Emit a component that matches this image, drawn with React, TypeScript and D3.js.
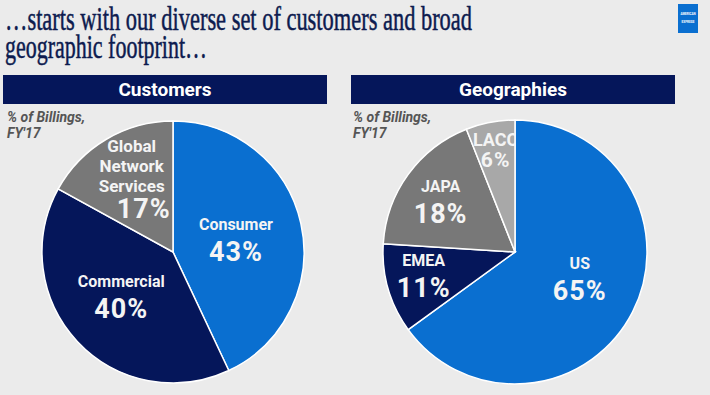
import { arc, pie } from "d3";
import type { PieArcDatum } from "d3";
import type { ReactElement } from "react";

const customerNames: string[][] = [["Consumer"], ["Commercial"], ["Global", "Network", "Services"]];
const customerValues = [43, 40, 17];
const customerColors = ["#0a6fd0", "#05165a", "#787878"];

const geoNames: string[][] = [["US"], ["EMEA"], ["JAPA"], ["LACC"]];
const geoValues = [65, 11, 18, 6];
const geoColors = ["#0a6fd0", "#05165a", "#787878", "#a8a8a8"];

const NAVY = "#05165a";
const BG = "#ebebeb";
const FONT = "Roboto, 'Liberation Sans', sans-serif";

// label nudges relative to arc centroid at half radius
const customerNudge: [number, number][] = [[-1, 1], [-4, -1], [-2, 0]];
const geoNudge: [number, number][] = [[6, -4], [-28, 5], [-21, -12], [-7, -42]];

type PieProps = Readonly<{
  id: string;
  cx: number;
  cy: number;
  r: number;
  names: string[][];
  values: number[];
  colors: string[];
  nudges: [number, number][];
  small?: number;
}>;

const PieChart = (props: PieProps): ReactElement => {
  const { id, cx, cy, r, names, values, colors, nudges, small } = props;
  const arcs = pie<number>().sort(null).value((d) => d)(values);
  const path = arc<PieArcDatum<number>>().innerRadius(0).outerRadius(r);
  const mid = arc<PieArcDatum<number>>().innerRadius(r * 0.5).outerRadius(r * 0.5);

  return (
    <g transform={`translate(${cx},${cy})`}>
      <defs>
        {arcs.map((a, i) => (
          <clipPath key={i} id={`${id}-clip-${i}`}>
            <path d={path(a) ?? ""} />
          </clipPath>
        ))}
      </defs>
      {arcs.map((a, i) => (
        <path key={i} d={path(a) ?? ""} fill={colors[i]} stroke="#ffffff" strokeWidth={1.5} />
      ))}
      {arcs.map((a, i) => {
        const [mx, my] = mid.centroid(a);
        const x = mx + nudges[i][0];
        const y = my + nudges[i][1];
        const isSmall = small === i;
        const ls = names[i];
        const multi = ls.length > 1;
        const pctSize = isSmall ? 21 : 27;
        const nameSize = isSmall ? 18 : multi ? 17 : 16;
        const gap = isSmall ? 21 : 31;
        const pctBase = y + 22;
        return (
          <g
            key={i}
            clipPath={isSmall ? `url(#${id}-clip-${i})` : undefined}
            fill="#f4f4f4"
            fontFamily={FONT}
            fontWeight="bold"
            textAnchor="middle"
          >
            {ls.map((ln, j) => (
              <text
                key={j}
                x={x - (multi ? 6 : 0)}
                y={pctBase - gap - (ls.length - 1 - j) * 20 + (multi ? 5 : 0)}
                fontSize={nameSize}
              >
                {ln}
              </text>
            ))}
            <text x={x + (multi ? 6 : 0)} y={pctBase} fontSize={pctSize} letterSpacing={1}>
              {`${values[i]}%`}
            </text>
          </g>
        );
      })}
    </g>
  );
};

const Header = ({ x, w, label }: { x: number; w: number; label: string }): ReactElement => (
  <g>
    <rect x={x} y={75} width={w} height={29} fill={NAVY} />
    <text
      x={x + w / 2}
      y={96}
      textAnchor="middle"
      fill="#ffffff"
      fontFamily={FONT}
      fontWeight="bold"
      fontSize={19}
    >
      {label}
    </text>
  </g>
);

const Subtitle = ({ x }: { x: number }): ReactElement => (
  <g fill="#555555" fontFamily={FONT} fontStyle="italic" fontWeight="bold" fontSize={14}>
    <text x={x} y={122}>% of Billings,</text>
    <text x={x} y={138}>FY'17</text>
  </g>
);

export default function App(): ReactElement {
  return (
    <svg
      width={710}
      height={395}
      style={{ position: "absolute", left: 0, top: 0, display: "block", background: BG }}
    >
      <rect width={710} height={395} fill={BG} />
      <g
        fill="#0d1b4f"
        stroke="#0d1b4f"
        strokeWidth={0.5}
        fontFamily="'Liberation Serif', 'DejaVu Serif', serif"
        fontSize={33}
      >
        <text x={5} y={30} textLength={467} lengthAdjust="spacingAndGlyphs">
          …starts with our diverse set of customers and broad
        </text>
        <text x={5} y={58} textLength={202} lengthAdjust="spacingAndGlyphs">
          geographic footprint…
        </text>
      </g>
      <rect x={678} y={4} width={20} height={29} fill="#0a6fd0" />
      <g fill="#ffffff" fontFamily={FONT} fontWeight="bold" fontSize={3} textAnchor="middle">
        <text x={688} y={15}>AMERICAN</text>
        <text x={688} y={23}>EXPRESS</text>
      </g>

      <Header x={3} w={324} label="Customers" />
      <Header x={351} w={324} label="Geographies" />
      <Subtitle x={7} />
      <Subtitle x={353} />

      <PieChart
        id="cust"
        cx={173}
        cy={252}
        r={131}
        names={customerNames}
        values={customerValues}
        colors={customerColors}
        nudges={customerNudge}
      />
      <PieChart
        id="geo"
        cx={515}
        cy={252}
        r={132}
        names={geoNames}
        values={geoValues}
        colors={geoColors}
        nudges={geoNudge}
        small={3}
      />
    </svg>
  );
}
